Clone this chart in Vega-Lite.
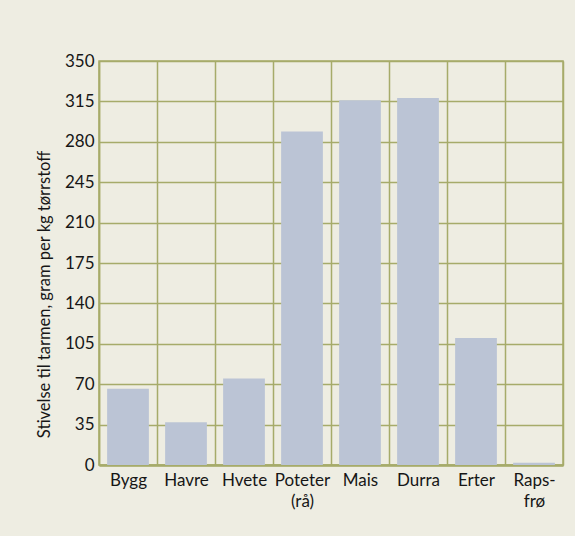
{
  "$schema": "https://vega.github.io/schema/vega-lite/v6.json",
  "width": 464,
  "height": 404,
  "autosize": {"type": "none"},
  "padding": {"left": 99, "top": 61, "right": 12, "bottom": 71},
  "background": "#eeede2",
  "config": {
    "font": "Lato",
    "view": {"stroke": "#a6ab6a", "strokeWidth": 1.5, "fill": "#eeede2"}
  },
  "data": {
    "values": [
      {"crop": "Bygg", "starch": 66},
      {"crop": "Havre", "starch": 37},
      {"crop": "Hvete", "starch": 75},
      {"crop": "Poteter|(rå)", "starch": 289},
      {"crop": "Mais", "starch": 316},
      {"crop": "Durra", "starch": 318},
      {"crop": "Erter", "starch": 110},
      {"crop": "Raps-|frø", "starch": 2}
    ]
  },
  "mark": {"type": "bar", "color": "#bbc4d5", "width": {"band": 0.72}},
  "encoding": {
    "x": {
      "field": "crop",
      "type": "nominal",
      "sort": null,
      "scale": {"paddingInner": 0, "paddingOuter": 0},
      "axis": {
        "title": null,
        "labelAngle": 0,
        "labelExpr": "split(datum.label, '|')",
        "labelFontSize": 17,
        "labelColor": "#161616",
        "labelPadding": 7,
        "labelLineHeight": 21,
        "labelBaseline": "top",
        "tickBand": "extent",
        "ticks": false,
        "grid": true,
        "gridColor": "#a6ab6a",
        "gridWidth": 1.5,
        "gridOpacity": 1,
        "domainColor": "#a6ab6a",
        "domainWidth": 2.5
      }
    },
    "y": {
      "field": "starch",
      "type": "quantitative",
      "scale": {"domain": [0, 350], "nice": false},
      "axis": {
        "title": "Stivelse til tarmen, gram per kg tørrstoff",
        "titleFontSize": 16.5,
        "titleFontWeight": "normal",
        "titleColor": "#161616",
        "titlePadding": 12,
        "titleY": 233,
        "values": [0, 35, 70, 105, 140, 175, 210, 245, 280, 315, 350],
        "labelFontSize": 17,
        "labelColor": "#161616",
        "labelPadding": 5,
        "ticks": false,
        "grid": true,
        "gridColor": "#a6ab6a",
        "gridWidth": 1.5,
        "gridOpacity": 1,
        "domainColor": "#a6ab6a",
        "domainWidth": 1.5
      }
    }
  }
}
